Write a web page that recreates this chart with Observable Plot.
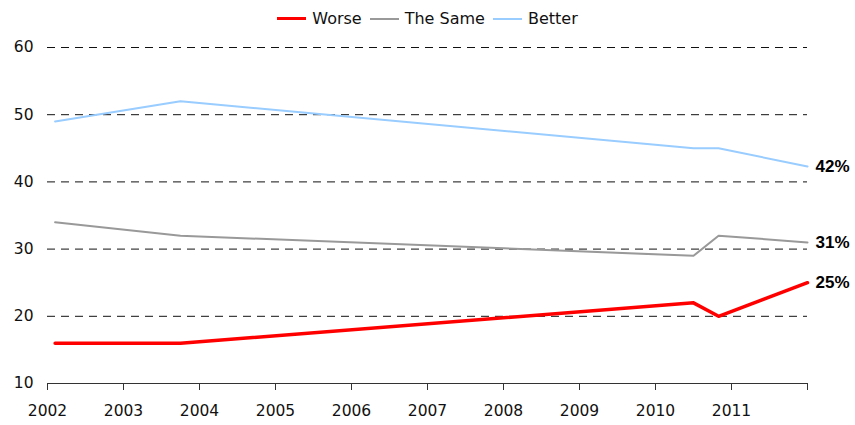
<!DOCTYPE html>
<html>
<head>
<meta charset="utf-8">
<script src="https://cdn.jsdelivr.net/npm/d3@7"></script>
<script src="https://cdn.jsdelivr.net/npm/@observablehq/plot@0.6"></script>
<style>
  body { margin: 0; background: #fff; font-family: "DejaVu Sans", sans-serif; }
  #legend { height: 37px; display: flex; justify-content: center; align-items: center; gap: 8px; font-size: 16px; color: #111; padding-left: 0; }
  .item { display: flex; align-items: center; gap: 6px; }
  .sw { width: 29px; display: inline-block; }
</style>
</head>
<body>
<div id="legend"></div>
<div id="chart"></div>
<script>
const dates = [2002.1, 2003.75, 2010.5, 2010.83, 2012.0];
const worse = [16, 16, 22, 20, 25];
const same = [34, 32, 29, 32, 31];
const better = [49, 52, 45, 45, 42.3];
const seriesNames = ["Worse", "The Same", "Better"];
const endLabels = ["25%", "31%", "42%"];
const seriesColors = ["#FF0000", "#999999", "#99CCFF"];
const seriesWidths = [3.5, 2, 2];
const yTicks = [10, 20, 30, 40, 50, 60];
const gridValues = [20, 30, 40, 50, 60];
const xTicks = [2002, 2003, 2004, 2005, 2006, 2007, 2008, 2009, 2010, 2011, 2012];

const allSeries = [worse, same, better];
const data = [];
allSeries.forEach((vals, i) => vals.forEach((v, j) => data.push({series: seriesNames[i], date: dates[j], value: v})));
const lastPoints = allSeries.map((vals, i) => ({series: seriesNames[i], date: dates[dates.length - 1], value: vals[vals.length - 1], label: endLabels[i]}));

// legend
const legend = document.getElementById("legend");
seriesNames.forEach((name, i) => {
  const it = document.createElement("span");
  it.className = "item";
  it.innerHTML = `<span class="sw" style="border-top:${seriesWidths[i] === 2 ? 2 : 3}px solid ${seriesColors[i]}"></span><span>${name}</span>`;
  legend.appendChild(it);
});

const chart = Plot.plot({
  width: 855,
  height: 388,
  marginLeft: 47,
  marginRight: 48,
  marginTop: 10,
  marginBottom: 42,
  style: { fontFamily: "DejaVu Sans, sans-serif", fontSize: "15.5px", color: "#111", background: "#fff" },
  x: { domain: [2002, 2012], ticks: xTicks, tickFormat: d => d === 2012 ? "" : String(d), tickSize: 7, tickPadding: 14, label: null },
  y: { domain: [10, 60], ticks: yTicks, tickSize: 0, tickPadding: 14, label: null },
  color: { domain: seriesNames, range: seriesColors },
  marks: [
    Plot.ruleY(gridValues, { stroke: "#111", strokeDasharray: "8,6", strokeWidth: 1 }),
    Plot.ruleY([yTicks[0]], { stroke: "#333", strokeWidth: 1 }),
    Plot.axisX({ ticks: xTicks, tickFormat: d => d === 2012 ? "" : String(d), tickSize: 7, tickPadding: 14, stroke: "#333", fill: "#111" }),
    Plot.axisY({ ticks: yTicks, tickSize: 0, tickPadding: 14, fill: "#111" }),
    Plot.line(data, { x: "date", y: "value", z: "series", stroke: "series", strokeWidth: d => d.series === "Worse" ? 3.5 : 2 }),
    Plot.text(lastPoints, { x: "date", y: "value", text: "label", dx: 8, textAnchor: "start", fontWeight: "bold", fontSize: 17, fontFamily: "Liberation Sans, Arial, sans-serif", fill: "#000" })
  ]
});
document.getElementById("chart").appendChild(chart);
</script>
</body>
</html>
